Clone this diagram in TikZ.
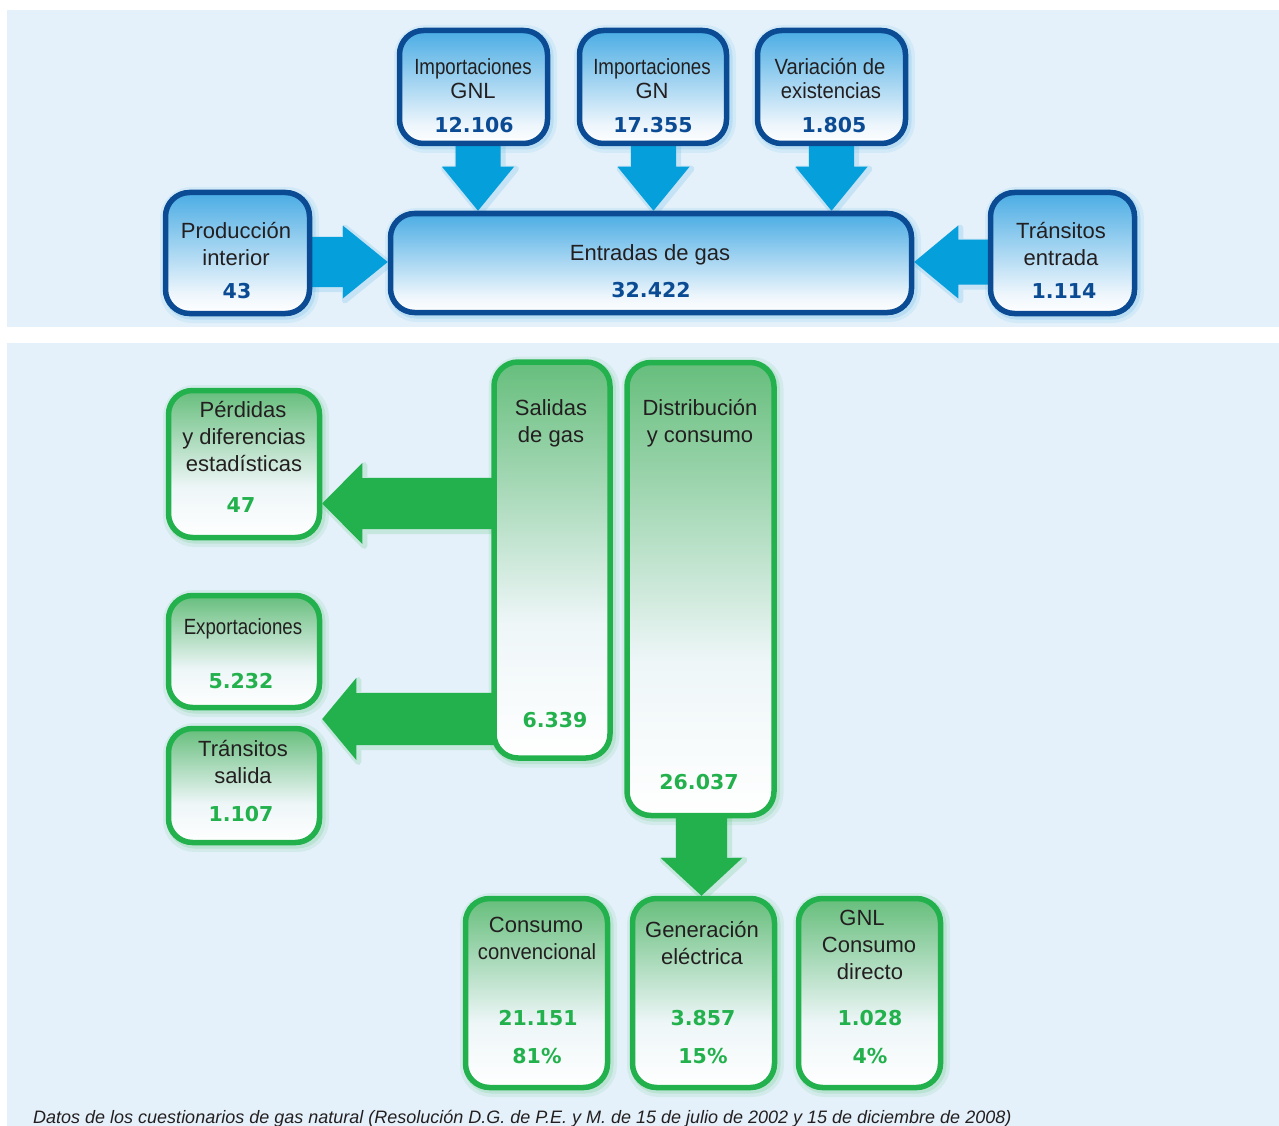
\documentclass[tikz,border=0pt]{standalone}
\usepackage{fontspec}
\setmainfont{Liberation Sans}
\newfontfamily\numfont{DejaVu Sans}
\newfontfamily\narrowA[FakeStretch=0.85]{Liberation Sans}
\newfontfamily\narrowB[FakeStretch=0.92]{Liberation Sans}
\usetikzlibrary{calc}
\definecolor{panel}{HTML}{E4F1FA}
\definecolor{bborder}{HTML}{0A4B94}
\definecolor{btop}{HTML}{4AACE4}
\definecolor{bpale}{HTML}{EEF6FC}
\definecolor{barrow}{HTML}{05A0DC}
\definecolor{bglow}{HTML}{3AA8E0}
\definecolor{gborder}{HTML}{22B14C}
\definecolor{gtop}{HTML}{66BE7C}
\definecolor{gpale}{HTML}{EEF6F8}
\definecolor{gglow}{HTML}{3DBA60}
\definecolor{txt}{HTML}{231F20}
\pgfdeclareverticalshading{bshade}{100bp}{color(0bp)=(white); color(25bp)=(white); color(33bp)=(bpale); color(75bp)=(btop); color(100bp)=(btop)}
\pgfdeclareverticalshading{gshade}{100bp}{color(0bp)=(white); color(25bp)=(white); color(42bp)=(gpale); color(75bp)=(gtop); color(100bp)=(gtop)}
\pgfdeclarelayer{bg}
\pgfdeclarelayer{arr}
\pgfsetlayers{bg,arr,main}
\tikzset{
  box/.style={draw, line width=5.5pt, rounded corners=24pt, inner sep=0pt, minimum width=#1},
  bbox/.style={box=#1, draw=bborder, shading=bshade},
  gbox/.style={box=#1, draw=gborder, shading=gshade},
  tx/.style={anchor=base, inner sep=0pt, text=txt, font=\fontsize{22}{26}\selectfont},
  bnum/.style={anchor=base, inner sep=0pt, text=bborder, font=\numfont\bfseries\fontsize{20.5}{24}\selectfont},
  gnum/.style={anchor=base, inner sep=0pt, text=gborder, font=\numfont\bfseries\fontsize{20.5}{24}\selectfont},
  glowA/.style={draw=#1, line width=15pt, draw opacity=0.10, rounded corners=24pt, transform canvas={xshift=2pt,yshift=-2pt}},
  glowB/.style={draw=#1, line width=8pt, draw opacity=0.16, rounded corners=24pt, transform canvas={xshift=2pt,yshift=-2pt}},
  barr/.style={fill=barrow},
  garr/.style={fill=gborder},
  aglow/.style={draw=#1, line width=6pt, draw opacity=0.18, line join=round, transform canvas={xshift=2pt,yshift=-2pt}}
}
% block arrows: #1 style, #2 glow colour, #3 start, #4 tip, #5 shaft half width, #6 head half width, #7 head length
\newcommand\arrdown[7]{%
  \path[#1, preaction={aglow=#2}] let \p1=(#3), \p2=(#4) in (\x2-#5pt,\y1) -- (\x2+#5pt,\y1) -- (\x2+#5pt,\y2+#7pt) -- (\x2+#6pt,\y2+#7pt) -- (\x2,\y2) -- (\x2-#6pt,\y2+#7pt) -- (\x2-#5pt,\y2+#7pt) -- cycle;}
\newcommand\arrleft[7]{%
  \path[#1, preaction={aglow=#2}] let \p1=(#3), \p2=(#4) in (\x1,\y2+#5pt) -- (\x2+#7pt,\y2+#5pt) -- (\x2+#7pt,\y2+#6pt) -- (\x2,\y2) -- (\x2+#7pt,\y2-#6pt) -- (\x2+#7pt,\y2-#5pt) -- (\x1,\y2-#5pt) -- cycle;}
\newcommand\arrright[7]{%
  \path[#1, preaction={aglow=#2}] let \p1=(#3), \p2=(#4) in (\x1,\y2+#5pt) -- (\x2-#7pt,\y2+#5pt) -- (\x2-#7pt,\y2+#6pt) -- (\x2,\y2) -- (\x2-#7pt,\y2-#6pt) -- (\x2-#7pt,\y2-#5pt) -- (\x1,\y2-#5pt) -- cycle;}
\newcommand\boxglow[2]{%
  \draw[glowA=#2] ($(#1.south west)+(2.75,-2.75)$) rectangle ($(#1.north east)+(-2.75,2.75)$);
  \draw[glowB=#2] ($(#1.south west)+(2.75,-2.75)$) rectangle ($(#1.north east)+(-2.75,2.75)$);}
\begin{document}
\begin{tikzpicture}[x=1pt,y=-1pt]
\useasboundingbox (0,0) rectangle (1279,1126);
\begin{pgfonlayer}{bg}
\fill[white] (0,0) rectangle (1279,1126);
\fill[panel] (7,10) rectangle (1279,327);
\fill[panel] (7,343) rectangle (1279,1126);
\end{pgfonlayer}

% ---------- blue boxes ----------
\node[bbox=148, minimum height=113] (gnl) at (473.5,87) {};
\node[bbox=147, minimum height=113] (gn) at (653,87) {};
\node[bbox=148, minimum height=113] (var) at (831.5,87) {};
\node[bbox=144, minimum height=121] (prod) at (237.5,253) {};
\node[bbox=521, minimum height=99] (ent) at (651,263) {};
\node[bbox=144, minimum height=121] (tra) at (1062.5,253) {};

% ---------- green boxes ----------
\node[gbox=116, minimum height=396] (sal) at (552,560) {};
\node[gbox=147, minimum height=453] (dis) at (700.5,589) {};
\node[gbox=151, minimum height=147] (per) at (244,464) {};
\node[gbox=151, minimum height=112] (exp) at (244,651.5) {};
\node[gbox=151, minimum height=114] (trs) at (244,785.5) {};
\node[gbox=142, minimum height=189] (con) at (536.5,993) {};
\node[gbox=142, minimum height=189] (gen) at (703.5,993) {};
\node[gbox=142, minimum height=189] (gnlc) at (869.5,993) {};

\begin{pgfonlayer}{bg}
\boxglow{gnl}{bglow}\boxglow{gn}{bglow}\boxglow{var}{bglow}
\boxglow{prod}{bglow}\boxglow{ent}{bglow}\boxglow{tra}{bglow}
\boxglow{sal}{gglow}\boxglow{dis}{gglow}\boxglow{per}{gglow}
\boxglow{exp}{gglow}\boxglow{trs}{gglow}\boxglow{con}{gglow}
\boxglow{gen}{gglow}\boxglow{gnlc}{gglow}
\end{pgfonlayer}

% ---------- arrows ----------
\coordinate (a1) at ($(gnl.center)+(4.5,0)$);
\coordinate (a2) at ($(gn.center)+(0.5,0)$);
\coordinate (a3) at (var.center);
\coordinate (a4) at ($(prod.center)+(0,9)$);
\coordinate (a5) at ($(tra.center)+(0,9)$);
\coordinate (g1) at (sal.center |- 0,503.5);
\coordinate (g2) at (sal.center |- 0,719);
\coordinate (g3) at ($(dis.center)+(1,0)$);
\begin{pgfonlayer}{arr}
\arrdown{barr}{bglow}{a1}{a1 |- ent.north}{22.5}{36}{44}
\arrdown{barr}{bglow}{a2}{a2 |- ent.north}{22.5}{36}{44}
\arrdown{barr}{bglow}{a3}{a3 |- ent.north}{22.5}{36}{44}
\arrright{barr}{bglow}{a4}{a4 -| ent.west}{25}{36.5}{45}
\arrleft{barr}{bglow}{a5}{a5 -| ent.east}{22.5}{36.5}{44}
\arrleft{garr}{gglow}{g1}{g1 -| per.east}{25.5}{40.5}{40}
\arrleft{garr}{gglow}{g2}{g2 -| exp.east}{26}{41}{34}
\arrdown{garr}{gglow}{g3}{g3 |- gen.north}{25.5}{41}{38}
\end{pgfonlayer}

% ---------- texts ----------
\node[tx] (gnlA) at (473,75) {\narrowA Importaciones};
\node[tx] (gnlB) at (473,99) {GNL};
\node[bnum] (gnlN) at (474,133) {12.106};
\node[tx] (gnA) at (652,75) {\narrowA Importaciones};
\node[tx] (gnB) at (652,99) {GN};
\node[bnum] (gnN) at (653,133) {17.355};
\node[tx] (varA) at (830,75) {\narrowB Variación de};
\node[tx] (varB) at (831,99) {\narrowB existencias};
\node[bnum] (varN) at (834,133) {1.805};
\node[tx] (prodA) at (236,238) {Producción};
\node[tx] (prodB) at (236,265) {interior};
\node[bnum] (prodN) at (237,298) {43};
\node[tx] (entA) at (650,260) {Entradas de gas};
\node[bnum] (entN) at (651,297) {32.422};
\node[tx] (traA) at (1061,238) {Tránsitos};
\node[tx] (traB) at (1061,265) {entrada};
\node[bnum] (traN) at (1064,298) {1.114};

\node[tx] (salA) at (551,415) {Salidas};
\node[tx] (salB) at (551,442) {de gas};
\node[gnum] (salN) at (555,727) {6.339};
\node[tx] (disA) at (700,415) {Distribución};
\node[tx] (disB) at (700,442) {y consumo};
\node[gnum] (disN) at (699,789) {26.037};
\node[tx] (perA) at (243,417) {Pérdidas};
\node[tx] (perB) at (244,444) {y diferencias};
\node[tx] (perC) at (244,471) {estadísticas};
\node[gnum] (perN) at (241,512) {47};
\node[tx] (expA) at (243,634) {\narrowA Exportaciones};
\node[gnum] (expN) at (241,688) {5.232};
\node[tx] (trsA) at (243,756) {Tránsitos};
\node[tx] (trsB) at (243,783) {salida};
\node[gnum] (trsN) at (241,821) {1.107};
\node[tx] (conA) at (536,932) {Consumo};
\node[tx] (conB) at (537,959) {\narrowB convencional};
\node[gnum] (conN) at (538,1025) {21.151};
\node[gnum] (conP) at (537,1063) {81\%};
\node[tx] (genA) at (702,937) {Generación};
\node[tx] (genB) at (702,964) {eléctrica};
\node[gnum] (genN) at (703,1025) {3.857};
\node[gnum] (genP) at (703,1063) {15\%};
\node[tx] (gnlcA) at (862,925) {GNL};
\node[tx] (gnlcB) at (869,952) {Consumo};
\node[tx] (gnlcC) at (870,979) {directo};
\node[gnum] (gnlcN) at (870,1025) {1.028};
\node[gnum] (gnlcP) at (870,1063) {4\%};

\node[anchor=base west, inner sep=0pt, text=txt, font=\itshape\fontsize{18}{22}\selectfont] (cap) at (33,1123) {Datos de los cuestionarios de gas natural (Resolución D.G. de P.E. y M. de 15 de julio de 2002 y 15 de diciembre de 2008)};
\end{tikzpicture}
\end{document}
